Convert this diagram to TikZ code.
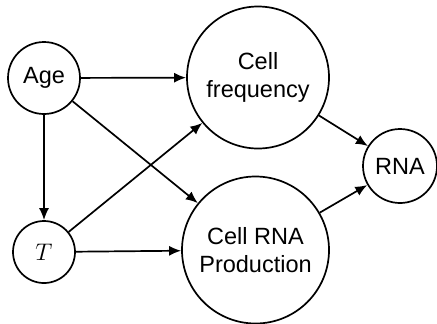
\documentclass[tikz,border=0pt]{standalone}
\usepackage{fontspec}
\setmainfont{Liberation Sans}
\usetikzlibrary{arrows.meta}
\begin{document}
\begin{tikzpicture}[x=0.5pt,y=-0.5pt,
  var/.style={draw,circle,line width=0.85pt,inner sep=0pt,align=center,
    font=\fontsize{11.75}{14}\selectfont},
  edge/.style={line width=0.85pt,-{Latex[length=6pt,width=5pt]}}]
\useasboundingbox (0,0) rectangle (437,323);
\node[var,minimum size=36pt] (age) at (44,78) {Age};
\node[var,minimum size=31pt] (t) at (44,252) {$T$};
\node[var,minimum size=71pt] (freq) at (258,77.5) {Cell\\frequency};
\node[var,minimum size=73.5pt] (prod) at (255.5,250) {Cell RNA\\Production};
\node[var,minimum size=37pt] (rna) at (400,166) {RNA};
\draw[edge] (age) -- (freq);
\draw[edge] (age) -- (t);
\draw[edge] (age) -- (prod);
\draw[edge] (t) -- (freq);
\draw[edge] (t) -- (prod);
\draw[edge] (freq) -- (rna);
\draw[edge] (prod) -- (rna);
\end{tikzpicture}
\end{document}
